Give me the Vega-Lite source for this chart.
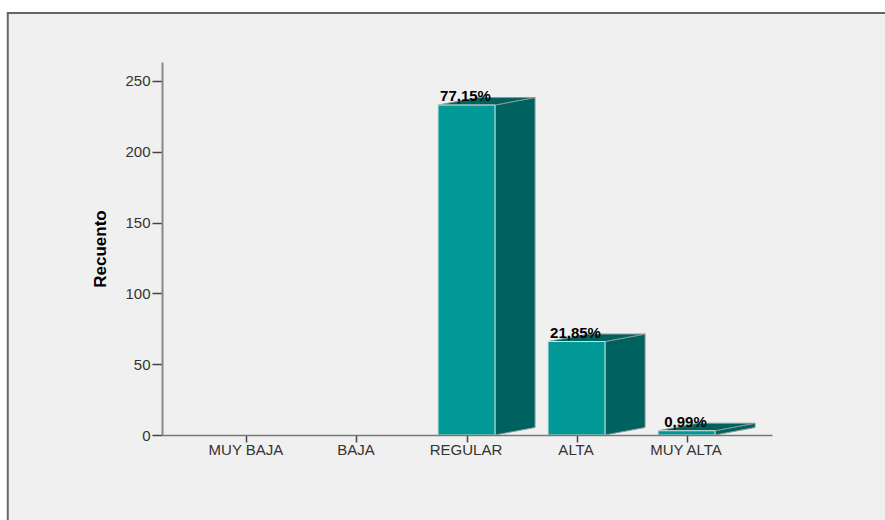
{
  "$schema": "https://vega.github.io/schema/vega-lite/v6.json",
  "width": 610,
  "height": 373,
  "autosize": "none",
  "padding": {"left": 162, "top": 62, "right": 113, "bottom": 85},
  "background": "#ffffff",
  "config": {"view": {"stroke": null}, "font": "Liberation Sans"},
  "datasets": {
    "recuentos": [
      {"categoria": "MUY BAJA", "orden": 0, "recuento": 0, "porcentaje": ""},
      {"categoria": "BAJA", "orden": 1, "recuento": 0, "porcentaje": ""},
      {"categoria": "REGULAR", "orden": 2, "recuento": 233, "porcentaje": "77,15%"},
      {"categoria": "ALTA", "orden": 3, "recuento": 66, "porcentaje": "21,85%"},
      {"categoria": "MUY ALTA", "orden": 4, "recuento": 3, "porcentaje": "0,99%"}
    ]
  },
  "layer": [
    {
      "data": {"values": [{}]},
      "mark": {"type": "rect", "fill": "#f0f0f0", "stroke": "#666666", "strokeWidth": 2},
      "encoding": {
        "x": {
          "datum": -2.17,
          "type": "quantitative",
          "scale": {"domain": [-0.768, 4.777], "nice": false, "zero": false},
          "axis": {
            "values": [0, 1, 2, 3, 4],
            "title": null,
            "grid": false,
            "zindex": 1,
            "labelExpr": "['MUY BAJA', 'BAJA', 'REGULAR', 'ALTA', 'MUY ALTA'][datum.value]",
            "labelFontSize": 15,
            "labelColor": "#333333",
            "labelPadding": 0,
            "labelOffset": -1,
            "tickSize": 7,
            "tickColor": "#444444",
            "tickWidth": 1.5,
            "domainColor": "#777777",
            "domainWidth": 1.5
          }
        },
        "x2": {"datum": 5.9},
        "y": {
          "datum": 298,
          "type": "quantitative",
          "scale": {"domain": [0, 263.4], "nice": false},
          "axis": {
            "values": [0, 50, 100, 150, 200, 250],
            "title": "Recuento",
            "titleFontSize": 17,
            "titleFontWeight": "bold",
            "titleColor": "#000000",
            "titlePadding": 15,
            "grid": false,
            "zindex": 1,
            "labelFontSize": 15,
            "labelColor": "#333333",
            "labelPadding": 2,
            "tickSize": 10,
            "tickColor": "#444444",
            "tickWidth": 1.5,
            "domainColor": "#888888",
            "domainWidth": 2
          }
        },
        "y2": {"datum": -70}
      }
    },
    {
      "data": {"name": "recuentos"},
      "transform": [
        {"filter": "datum.recuento > 0"},
        {"calculate": "[datum.orden + 0.259, datum.orden + 0.623]", "as": "xs"},
        {"calculate": "[0, 5.3]", "as": "base"},
        {"calculate": "[datum.recuento, datum.recuento + 5.3]", "as": "cima"},
        {"flatten": ["xs", "base", "cima"]}
      ],
      "mark": {"type": "area", "fill": "#00625e", "stroke": "#8a9a98", "strokeWidth": 1, "opacity": 1},
      "encoding": {
        "x": {"field": "xs", "type": "quantitative"},
        "y": {"field": "base", "type": "quantitative"},
        "y2": {"field": "cima"},
        "detail": {"field": "categoria"}
      }
    },
    {
      "data": {"name": "recuentos"},
      "transform": [
        {"filter": "datum.recuento > 0"},
        {"calculate": "[datum.orden - 0.259, datum.orden + 0.105, datum.orden + 0.259, datum.orden + 0.623]", "as": "xs"},
        {"calculate": "[datum.recuento, datum.recuento, datum.recuento, datum.recuento + 5.3]", "as": "base"},
        {"calculate": "[datum.recuento, datum.recuento + 5.3, datum.recuento + 5.3, datum.recuento + 5.3]", "as": "cima"},
        {"flatten": ["xs", "base", "cima"]}
      ],
      "mark": {"type": "area", "fill": "#00625e", "stroke": "#8a9a98", "strokeWidth": 1, "opacity": 1},
      "encoding": {
        "x": {"field": "xs", "type": "quantitative"},
        "y": {"field": "base", "type": "quantitative"},
        "y2": {"field": "cima"},
        "detail": {"field": "categoria"}
      }
    },
    {
      "data": {"name": "recuentos"},
      "transform": [
        {"filter": "datum.recuento > 0"},
        {"calculate": "datum.orden - 0.259", "as": "izq"},
        {"calculate": "datum.orden + 0.259", "as": "der"}
      ],
      "mark": {"type": "rect", "fill": "#009996", "stroke": "#cfe3e1", "strokeWidth": 1},
      "encoding": {
        "x": {"field": "izq", "type": "quantitative"},
        "x2": {"field": "der"},
        "y": {"field": "recuento", "type": "quantitative"},
        "y2": {"datum": 0}
      }
    },
    {
      "data": {"name": "recuentos"},
      "transform": [{"filter": "datum.recuento > 0"}],
      "mark": {"type": "text", "fontSize": 15, "fontWeight": "bold", "color": "#000000", "align": "center", "baseline": "alphabetic", "dy": -4, "dx": -1},
      "encoding": {
        "x": {"field": "orden", "type": "quantitative"},
        "y": {"field": "recuento", "type": "quantitative"},
        "text": {"field": "porcentaje"}
      }
    }
  ]
}
